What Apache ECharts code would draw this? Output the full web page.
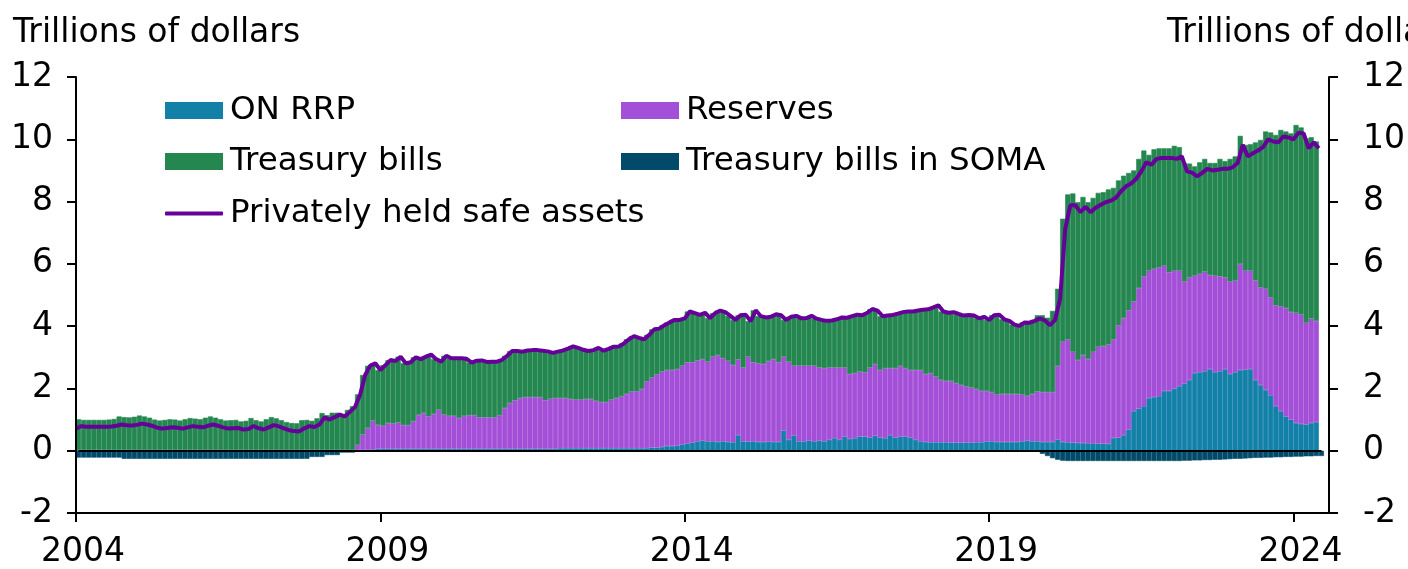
<!DOCTYPE html>
<html>
<head>
<meta charset="utf-8">
<script src="https://cdn.jsdelivr.net/npm/echarts@6/dist/echarts.min.js"></script>
<style>
html,body{margin:0;padding:0;background:#fff;width:1408px;height:569px;overflow:hidden;}
#chart{width:1408px;height:569px;overflow:hidden;}
</style>
</head>
<body>
<div id="chart"></div>
<script>
// Monthly observations, January 2004 .. June 2024 (trillions of dollars)
const startYear = 2004;
const yearTickLabels = ['2004', '2009', '2014', '2019', '2024'];
const yTickLabels = ['-2', '0', '2', '4', '6', '8', '10', '12'];

const onRrp = [
  0.01,0.01,0.01,0.01,0.01,0.01,0.01,0.01,0.01,0.01,0.01,0.01,
  0.01,0.01,0.01,0.01,0.01,0.01,0.01,0.01,0.01,0.01,0.01,0.01,
  0.01,0.01,0.01,0.01,0.01,0.01,0.01,0.01,0.01,0.01,0.01,0.01,
  0.01,0.01,0.01,0.01,0.01,0.01,0.01,0.01,0.01,0.01,0.01,0.01,
  0.01,0.01,0.01,0.01,0.01,0.01,0.01,0.01,0.03,0.03,0.03,0.04,
  0.06,0.06,0.06,0.06,0.06,0.06,0.06,0.06,0.06,0.06,0.06,0.06,
  0.06,0.06,0.06,0.06,0.06,0.06,0.06,0.06,0.06,0.06,0.06,0.06,
  0.06,0.06,0.06,0.06,0.06,0.06,0.06,0.06,0.06,0.06,0.06,0.06,
  0.08,0.08,0.08,0.08,0.08,0.08,0.08,0.08,0.08,0.08,0.08,0.08,
  0.08,0.08,0.08,0.08,0.08,0.08,0.10,0.10,0.12,0.15,0.15,0.16,
  0.20,0.23,0.26,0.30,0.32,0.30,0.30,0.28,0.30,0.28,0.27,0.50,
  0.30,0.29,0.30,0.28,0.28,0.29,0.28,0.28,0.65,0.35,0.49,0.30,
  0.30,0.33,0.30,0.32,0.30,0.35,0.40,0.35,0.45,0.38,0.40,0.45,
  0.45,0.42,0.48,0.42,0.40,0.50,0.42,0.45,0.45,0.42,0.35,0.30,
  0.28,0.27,0.27,0.27,0.27,0.26,0.26,0.26,0.26,0.26,0.27,0.27,
  0.30,0.30,0.28,0.28,0.28,0.28,0.28,0.30,0.32,0.30,0.30,0.28,
  0.28,0.28,0.36,0.28,0.27,0.26,0.25,0.25,0.24,0.24,0.23,0.23,
  0.22,0.41,0.42,0.50,0.68,1.27,1.35,1.43,1.69,1.72,1.75,1.92,
  1.92,1.99,2.07,2.15,2.27,2.49,2.52,2.55,2.62,2.52,2.55,2.62,
  2.46,2.52,2.59,2.60,2.62,2.27,2.11,1.95,1.78,1.43,1.27,1.10,
  1.00,0.89,0.86,0.84,0.89,0.92
];

const reserves = [
  0.02,0.02,0.02,0.02,0.02,0.02,0.02,0.02,0.02,0.02,0.02,0.02,
  0.02,0.02,0.02,0.02,0.02,0.02,0.02,0.02,0.02,0.02,0.02,0.02,
  0.02,0.02,0.02,0.02,0.02,0.02,0.02,0.02,0.02,0.02,0.02,0.02,
  0.02,0.02,0.02,0.02,0.02,0.02,0.02,0.02,0.02,0.02,0.02,0.02,
  0.02,0.02,0.02,0.02,0.02,0.02,0.02,0.02,0.16,0.49,0.70,0.93,
  0.77,0.74,0.83,0.81,0.85,0.76,0.76,0.89,1.09,1.15,1.04,1.12,
  1.26,1.10,1.06,1.06,0.99,1.06,1.08,1.08,1.01,1.01,1.01,1.01,
  1.08,1.31,1.47,1.56,1.63,1.66,1.66,1.66,1.66,1.56,1.61,1.63,
  1.61,1.61,1.58,1.56,1.56,1.58,1.58,1.52,1.48,1.48,1.56,1.61,
  1.67,1.74,1.82,1.82,1.90,2.14,2.25,2.35,2.42,2.44,2.44,2.46,
  2.53,2.61,2.58,2.60,2.62,2.56,2.72,2.79,2.67,2.61,2.48,2.43,
  2.37,2.73,2.54,2.53,2.50,2.59,2.66,2.56,2.37,2.51,2.24,2.43,
  2.43,2.40,2.43,2.35,2.35,2.32,2.27,2.32,2.22,2.08,2.09,2.09,
  2.06,2.25,2.30,2.17,2.25,2.15,2.23,2.27,2.20,2.17,2.24,2.29,
  2.18,2.22,2.11,2.00,1.97,1.98,1.91,1.85,1.80,1.77,1.71,1.65,
  1.62,1.58,1.52,1.54,1.54,1.54,1.54,1.50,1.44,1.52,1.60,1.60,
  1.60,1.60,2.36,3.22,3.31,2.92,2.66,2.82,2.70,2.94,3.11,3.13,
  3.19,3.17,3.61,3.76,3.83,3.52,3.87,4.17,4.09,4.12,4.14,4.02,
  3.81,3.79,3.71,3.28,3.30,3.13,3.16,3.20,3.02,3.10,3.05,2.95,
  2.97,2.94,3.41,3.18,3.16,3.19,3.14,3.25,3.15,3.24,3.37,3.48,
  3.45,3.54,3.51,3.27,3.35,3.24
];

const treasuryBills = [
  0.90,0.98,0.96,0.96,0.96,0.96,0.96,0.97,0.99,1.07,1.05,1.04,
  1.06,1.10,1.07,1.03,0.97,0.94,0.96,0.98,0.97,0.94,0.98,1.02,
  1.00,0.98,1.03,1.07,1.03,0.98,0.94,0.95,0.96,0.91,0.93,1.02,
  0.95,0.91,0.98,1.05,1.01,0.95,0.89,0.86,0.85,0.95,0.96,0.93,
  1.01,1.18,1.11,1.19,1.19,1.13,1.28,1.40,1.62,1.91,2.00,1.84,
  1.76,1.95,2.02,2.01,2.11,1.99,2.02,2.05,1.79,1.81,1.99,1.76,
  1.54,1.89,1.85,1.85,1.92,1.83,1.69,1.75,1.83,1.78,1.79,1.79,
  1.78,1.68,1.67,1.58,1.49,1.50,1.51,1.51,1.49,1.57,1.47,1.49,
  1.53,1.59,1.69,1.66,1.60,1.54,1.57,1.70,1.65,1.71,1.70,1.66,
  1.69,1.76,1.78,1.72,1.60,1.50,1.55,1.47,1.49,1.53,1.61,1.58,
  1.52,1.63,1.58,1.46,1.49,1.40,1.40,1.43,1.48,1.44,1.45,1.42,
  1.70,1.14,1.67,1.51,1.50,1.42,1.44,1.51,1.18,1.44,1.60,1.52,
  1.53,1.60,1.51,1.53,1.52,1.51,1.55,1.61,1.60,1.86,1.88,1.81,
  1.92,1.88,1.72,1.73,1.69,1.71,1.75,1.73,1.82,1.88,1.91,1.94,
  2.08,2.11,2.29,2.20,2.19,2.21,2.22,2.23,2.30,2.31,2.27,2.38,
  2.28,2.47,2.57,2.40,2.35,2.23,2.19,2.32,2.35,2.38,2.45,2.47,
  2.39,2.61,2.48,3.95,4.65,5.08,5.07,5.08,5.04,4.94,4.94,4.94,
  4.98,4.86,4.65,4.57,4.41,4.21,4.15,4.04,3.72,3.84,3.82,3.77,
  3.98,4.01,3.97,3.81,3.65,3.51,3.58,3.62,3.60,3.62,3.77,3.73,
  3.94,3.99,4.11,4.04,4.06,4.44,4.73,5.05,5.29,5.47,5.66,5.67,
  5.74,6.03,6.01,5.92,5.83,5.77
];

const somaBills = [
  -0.22,-0.22,-0.22,-0.22,-0.22,-0.22,-0.22,-0.22,-0.22,-0.26,-0.26,-0.26,
  -0.26,-0.26,-0.26,-0.26,-0.26,-0.26,-0.26,-0.26,-0.26,-0.26,-0.26,-0.26,
  -0.26,-0.26,-0.26,-0.26,-0.26,-0.26,-0.26,-0.26,-0.26,-0.26,-0.26,-0.26,
  -0.26,-0.26,-0.26,-0.26,-0.26,-0.26,-0.26,-0.26,-0.26,-0.26,-0.20,-0.20,
  -0.20,-0.14,-0.14,-0.14,-0.06,-0.06,-0.06,-0.03,-0.01,0,0,0,
  0,0,0,0,0,0,0,0,0,0,0,0,
  0,0,0,0,0,0,0,0,0,0,0,0,
  0,0,0,0,0,0,0,0,0,0,0,0,
  0,0,0,0,0,0,0,0,0,0,0,0,
  0,0,0,0,0,0,0,0,0,0,0,0,
  0,0,0,0,0,0,0,0,0,0,0,0,
  0,0,0,0,0,0,0,0,0,0,0,0,
  0,0,0,0,0,0,0,0,0,0,0,0,
  0,0,0,0,0,0,0,0,0,0,0,0,
  0,0,0,0,0,0,0,0,0,0,0,0,
  0,0,0,0,0,0,0,0,0,-0.03,-0.10,-0.17,
  -0.24,-0.29,-0.32,-0.33,-0.33,-0.33,-0.33,-0.33,-0.33,-0.33,-0.33,-0.33,
  -0.33,-0.33,-0.33,-0.33,-0.33,-0.33,-0.33,-0.33,-0.33,-0.33,-0.33,-0.33,
  -0.33,-0.33,-0.32,-0.32,-0.31,-0.31,-0.30,-0.30,-0.29,-0.29,-0.28,-0.27,
  -0.26,-0.26,-0.25,-0.24,-0.23,-0.23,-0.22,-0.22,-0.21,-0.21,-0.20,-0.20,
  -0.19,-0.19,-0.18,-0.18,-0.17,-0.17
];

const privatelyHeldSafeAssets = [
  0.71,0.79,0.77,0.77,0.77,0.77,0.77,0.78,0.80,0.84,0.82,0.81,
  0.83,0.87,0.84,0.80,0.74,0.71,0.73,0.75,0.74,0.71,0.75,0.79,
  0.77,0.75,0.80,0.84,0.80,0.75,0.71,0.72,0.73,0.68,0.70,0.79,
  0.72,0.68,0.75,0.82,0.78,0.72,0.66,0.63,0.62,0.72,0.79,0.76,
  0.84,1.07,1.00,1.08,1.16,1.10,1.25,1.40,1.80,2.43,2.73,2.81,
  2.59,2.75,2.91,2.88,3.02,2.81,2.84,3.00,2.94,3.02,3.09,2.94,
  2.86,3.05,2.97,2.97,2.97,2.95,2.83,2.89,2.90,2.85,2.86,2.86,
  2.92,3.05,3.20,3.20,3.18,3.22,3.23,3.23,3.21,3.19,3.14,3.18,
  3.22,3.28,3.35,3.30,3.24,3.20,3.23,3.30,3.21,3.27,3.34,3.35,
  3.44,3.58,3.68,3.62,3.58,3.72,3.90,3.92,4.03,4.12,4.20,4.20,
  4.25,4.47,4.42,4.36,4.43,4.26,4.42,4.50,4.45,4.33,4.20,4.35,
  4.37,4.16,4.51,4.32,4.28,4.30,4.38,4.35,4.20,4.30,4.33,4.25,
  4.26,4.33,4.24,4.20,4.17,4.18,4.22,4.28,4.27,4.32,4.37,4.35,
  4.43,4.55,4.50,4.32,4.34,4.36,4.40,4.45,4.47,4.47,4.50,4.53,
  4.54,4.60,4.67,4.47,4.43,4.45,4.39,4.34,4.36,4.34,4.25,4.30,
  4.20,4.35,4.37,4.22,4.17,4.05,4.01,4.12,4.11,4.17,4.25,4.18,
  4.03,4.20,4.88,7.12,7.88,7.88,7.66,7.83,7.66,7.80,7.90,7.98,
  8.03,8.12,8.33,8.49,8.58,8.73,8.97,9.26,9.18,9.37,9.40,9.40,
  9.40,9.37,9.45,8.97,8.93,8.81,8.92,9.05,9.00,9.02,9.05,9.05,
  9.10,9.24,9.82,9.45,9.55,9.64,9.75,10.00,9.93,9.90,10.09,10.06,
  10.00,10.21,10.19,9.71,9.90,9.71
];

const FONT = 'DejaVu Sans';
const nMonths = privatelyHeldSafeAssets.length;
// month categories: one per observation plus empty slots to the axis end
const months = [];
for (let j = 0; j < nMonths + 2; j++) {
  const y = startYear + Math.floor(j / 12), m = (j % 12) + 1;
  months.push(y + '-' + (m < 10 ? '0' + m : m));
}

const chart = echarts.init(document.getElementById('chart'), null, {renderer: 'canvas', width: 1408, height: 569});

function barSeries(name, arr, color, stack) {
  return {
    name: name, type: 'bar', stack: stack, data: arr, xAxisIndex: 0,
    barWidth: '100%', barCategoryGap: '0%', barGap: '0%',
    itemStyle: {color: color, borderColor: color, borderWidth: 0.6},
    clip: true, animation: false, emphasis: {disabled: true}, large: false
  };
}

const legendFont = {fontSize: 32.5, color: '#000', fontFamily: FONT, padding: [0, 0, 0, 2]};
function legendAt(name, left, top, icon, h) {
  return {data: [name], left: left, top: top, itemWidth: 58, itemHeight: h || 17, icon: icon,
    textStyle: legendFont, padding: 0, selectedMode: false,
    itemStyle: {borderWidth: 0}};
}

const yAxisCommon = {
  type: 'value', min: -2, max: 12, interval: 2, z: 60,
  axisLine: {show: true, lineStyle: {color: '#000', width: 2}},
  axisTick: {show: true, inside: false, length: 9, lineStyle: {color: '#000', width: 2}},
  splitLine: {show: false},
  axisLabel: {fontSize: 33, color: '#000', fontFamily: FONT,
    formatter: v => yTickLabels[Math.round((v + 2) / 2)]}
};

chart.setOption({
  animation: false,
  backgroundColor: '#fff',
  grid: {left: 76, right: 73, top: 77, bottom: 53, containLabel: false},
  xAxis: [
    {
      type: 'category', data: months, boundaryGap: false, show: false,
      axisLine: {show: false}, axisTick: {show: false}, axisLabel: {show: false}
    },
    {
      type: 'value', min: 0, max: nMonths + 1, interval: 60, position: 'bottom', z: 60,
      axisLine: {show: true, onZero: false, lineStyle: {color: '#000', width: 2}},
      axisTick: {show: true, length: 9, lineStyle: {color: '#000', width: 2}},
      splitLine: {show: false},
      axisLabel: {fontSize: 33, color: '#000', fontFamily: FONT, margin: 23,
        showMaxLabel: false, padding: [0, 0, 0, 14],
        formatter: v => yearTickLabels[Math.round(v / 60)] || ''}
    }
  ],
  yAxis: [
    Object.assign({}, yAxisCommon, {position: 'left', axisLabel: Object.assign({}, yAxisCommon.axisLabel, {margin: 23})}),
    Object.assign({}, yAxisCommon, {position: 'right', axisLabel: Object.assign({}, yAxisCommon.axisLabel, {margin: 34})})
  ],
  legend: [
    legendAt('ON RRP', 165, 94, 'rect'),
    legendAt('Reserves', 621, 94, 'rect'),
    legendAt('Treasury bills', 165, 145, 'rect'),
    legendAt('Treasury bills in SOMA', 621, 145, 'rect'),
    legendAt('Privately held safe assets', 165, 197, 'roundRect', 4)
  ],
  graphic: [
    {type: 'text', left: 13, top: 17, style: {text: 'Trillions of dollars', font: '33px "DejaVu Sans"', fill: '#000'}},
    {type: 'text', left: 1167, top: 17, style: {text: 'Trillions of dollars', font: '33px "DejaVu Sans"', fill: '#000'}},
    // keep the plot area's left edge clean (bars are centred on month ends)
    {type: 'rect', z: 50, silent: true, shape: {x: 62, y: 380, width: 13.5, height: 100}, style: {fill: '#fff'}}
  ],
  series: [
    barSeries('ON RRP', onRrp, '#1380A8', 'pos'),
    barSeries('Reserves', reserves, '#A44FD8', 'pos'),
    barSeries('Treasury bills', treasuryBills, '#24874F', 'pos'),
    Object.assign(barSeries('Treasury bills in SOMA', somaBills, '#024A6A', 'neg'), {
      markLine: {silent: true, symbol: 'none', animation: false, label: {show: false},
        lineStyle: {color: '#000', width: 2, type: 'solid'},
        data: [[{coord: [months[0], 0]}, {coord: [months[nMonths - 1], 0]}]]}
    }),
    {
      name: 'Privately held safe assets', type: 'line', data: privatelyHeldSafeAssets, xAxisIndex: 0,
      symbol: 'none', showSymbol: false, smooth: false,
      lineStyle: {width: 4, color: '#660099'}, itemStyle: {color: '#660099'},
      z: 5, animation: false, emphasis: {disabled: true}
    }
  ]
});
</script>
</body>
</html>
